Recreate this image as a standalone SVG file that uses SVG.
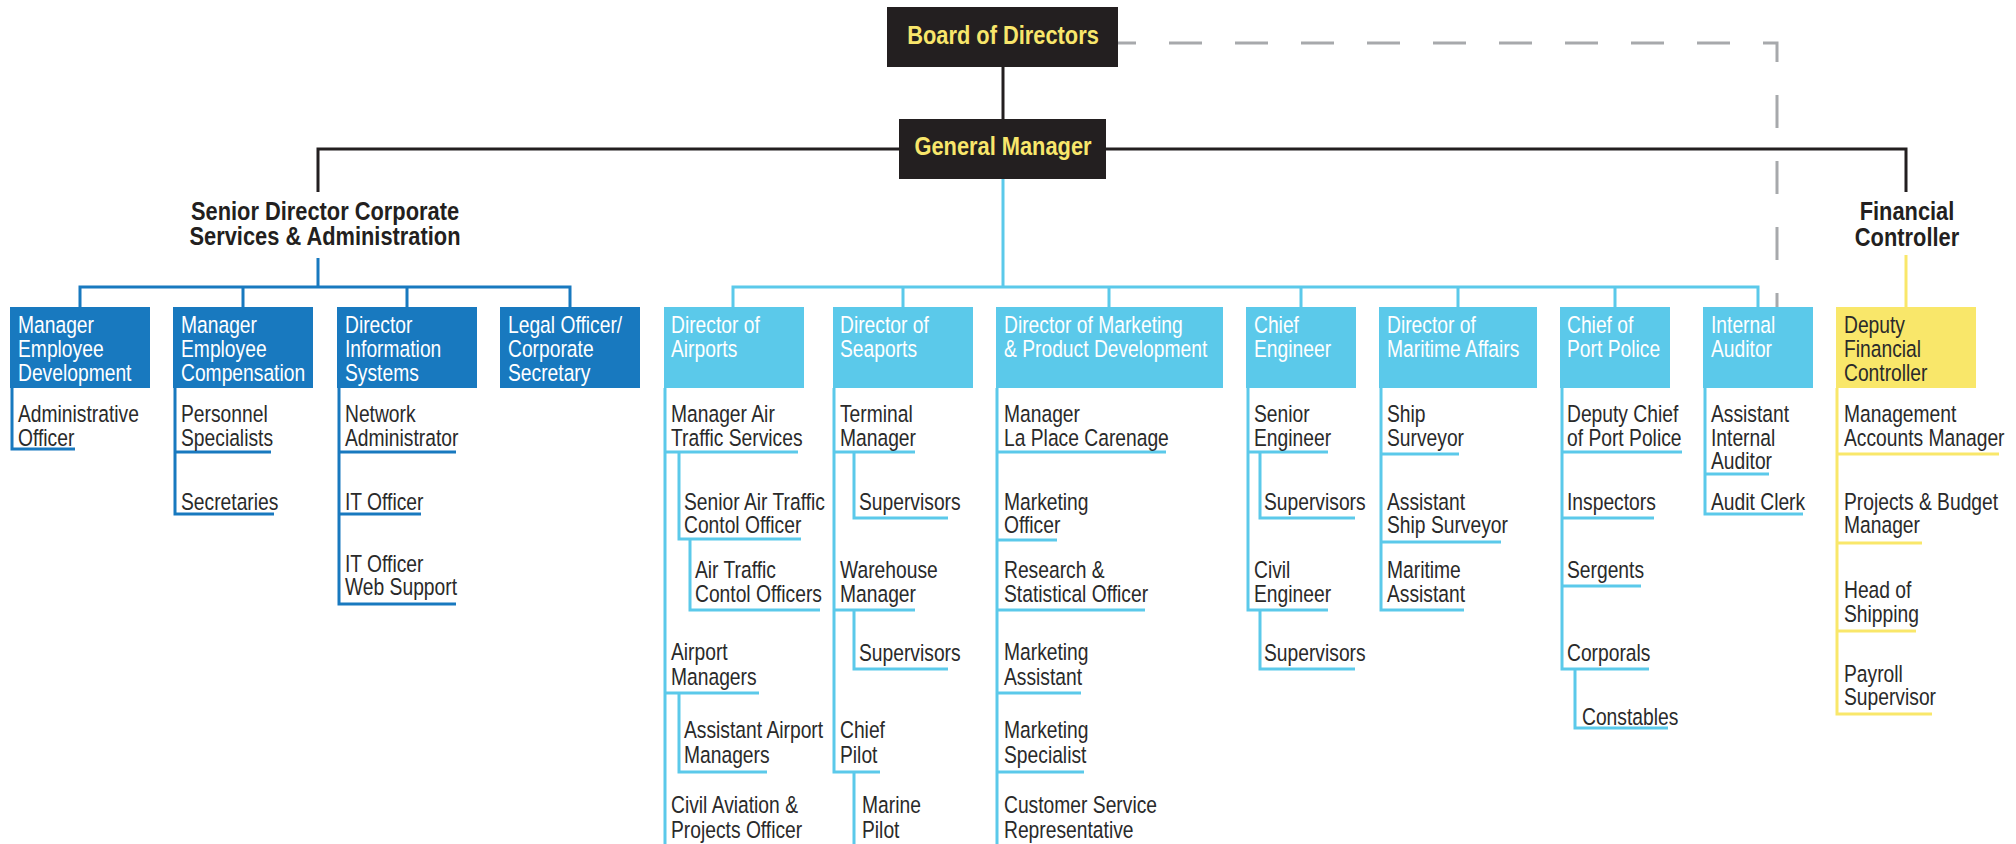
<svg xmlns="http://www.w3.org/2000/svg" width="2016" height="844" viewBox="0 0 2016 844">
<style>
.bg{fill:#ffffff}
.ln{fill:none;stroke-width:3}
.bk{stroke:#231f20}
.db{stroke:#1879bf}
.lb{stroke:#5bc9ea}
.yl{stroke:#f9e76a}
.ds{stroke:#a7a9ac;stroke-dasharray:33 33;stroke-dashoffset:19}
.blk{fill:#231f20}
.dbf{fill:#1879bf}
.lbf{fill:#5bc9ea}
.ylf{fill:#f9e76a}
text{font-family:"Liberation Sans",Arial,sans-serif;font-size:23.5px}
.h{font-weight:bold;font-size:26px;text-anchor:middle}
.hy{fill:#f8e66b}
.hd{fill:#231f20}
.w{fill:#ffffff}
.t{fill:#2a2a2a}
</style>
<rect class="bg" x="0" y="0" width="2016" height="844"/>
<g id="connectors">
<path class="ln ds" d="M1777 307 V43 H1118"/>
<path class="ln bk" d="M1003 67 V119"/>
<path class="ln bk" d="M318 192 V149 H1906 V192"/>
<path class="ln db" d="M318 258 V287 M80 307 V287 H570 V307 M243 287 V307 M407 287 V307"/>
<path class="ln lb" d="M1003 179 V287 M733 307 V287 H1758 V307 M903 287 V307 M1109 287 V307 M1301 287 V307 M1458 287 V307 M1615 287 V307"/>
<path class="ln yl" d="M1906 255 V307"/>
<path class="ln db" d="M12 388 V449 H75"/>
<path class="ln db" d="M175 388 V514 H274 M175 452 H271"/>
<path class="ln db" d="M339 388 V604 H456 M339 452 H456 M339 514 H421"/>
<path class="ln lb" d="M665 388 V844 M665 452 H798 M665 693 H759 M679 452 V539 H801 M690 539 V610 H820 M679 693 V772 H767"/>
<path class="ln lb" d="M834 388 V772 H880 M834 452 H915 M834 610 H915 M854 452 V518 H948 M854 610 V669 H948 M854 772 V844"/>
<path class="ln lb" d="M997 388 V844 M997 452 H1166 M997 540 H1057 M997 610 H1145 M997 693 H1081 M997 772 H1084"/>
<path class="ln lb" d="M1248 388 V610 H1328 M1248 452 H1328 M1260 452 V518 H1355 M1260 610 V669 H1355"/>
<path class="ln lb" d="M1381 388 V610 H1464 M1381 454 H1459 M1381 542 H1501"/>
<path class="ln lb" d="M1562 388 V669 H1649 M1562 452 H1682 M1562 518 H1654 M1562 586 H1641 M1575 669 V728 H1668"/>
<path class="ln lb" d="M1705 388 V514 H1803 M1705 474 H1769"/>
<path class="ln yl" d="M1837 388 V714 H1932 M1837 454 H1999 M1837 543 H1922 M1837 631 H1916"/>
</g>
<g id="board">
<rect class="blk" x="887" y="7" width="231" height="60"/>
<text class="h hy" transform="matrix(.84 0 0 1 1003 0)" x="0" y="44">Board of Directors</text>
</g>
<g id="general-manager">
<rect class="blk" x="899" y="119" width="207" height="60"/>
<text class="h hy" transform="matrix(.84 0 0 1 1003 0)" x="0" y="155">General Manager</text>
</g>
<g id="senior-director">
<text class="h hd" transform="matrix(.84 0 0 1 325 0)"><tspan x="0" y="220">Senior Director Corporate</tspan><tspan x="0" y="245">Services &amp; Administration</tspan></text>
</g>
<g id="financial-controller">
<text class="h hd" transform="matrix(.84 0 0 1 1907 0)"><tspan x="0" y="220">Financial</tspan><tspan x="0" y="246">Controller</tspan></text>
</g>
<g id="mgr-emp-dev">
<rect class="dbf" x="10" y="307" width="140" height="81"/>
<text class="w" transform="matrix(.82 0 0 1 18 0)"><tspan x="0" y="333">Manager</tspan><tspan x="0" y="357">Employee</tspan><tspan x="0" y="381">Development</tspan></text>
<text class="t" transform="matrix(.82 0 0 1 18 0)"><tspan x="0" y="422">Administrative</tspan><tspan x="0" y="446">Officer</tspan></text>
</g>
<g id="mgr-emp-comp">
<rect class="dbf" x="173" y="307" width="140" height="81"/>
<text class="w" transform="matrix(.82 0 0 1 181 0)"><tspan x="0" y="333">Manager</tspan><tspan x="0" y="357">Employee</tspan><tspan x="0" y="381">Compensation</tspan></text>
<text class="t" transform="matrix(.82 0 0 1 181 0)"><tspan x="0" y="422">Personnel</tspan><tspan x="0" y="446">Specialists</tspan></text>
<text class="t" transform="matrix(.82 0 0 1 181 0)" x="0" y="510">Secretaries</text>
</g>
<g id="dir-info-sys">
<rect class="dbf" x="337" y="307" width="140" height="81"/>
<text class="w" transform="matrix(.82 0 0 1 345 0)"><tspan x="0" y="333">Director</tspan><tspan x="0" y="357">Information</tspan><tspan x="0" y="381">Systems</tspan></text>
<text class="t" transform="matrix(.82 0 0 1 345 0)"><tspan x="0" y="422">Network</tspan><tspan x="0" y="446">Administrator</tspan></text>
<text class="t" transform="matrix(.82 0 0 1 345 0)" x="0" y="510">IT Officer</text>
<text class="t" transform="matrix(.82 0 0 1 345 0)"><tspan x="0" y="572">IT Officer</tspan><tspan x="0" y="595">Web Support</tspan></text>
</g>
<g id="legal-officer">
<rect class="dbf" x="500" y="307" width="140" height="81"/>
<text class="w" transform="matrix(.82 0 0 1 508 0)"><tspan x="0" y="333">Legal Officer/</tspan><tspan x="0" y="357">Corporate</tspan><tspan x="0" y="381">Secretary</tspan></text>
</g>
<g id="dir-airports">
<rect class="lbf" x="664" y="307" width="140" height="81"/>
<text class="w" transform="matrix(.82 0 0 1 671 0)"><tspan x="0" y="333">Director of</tspan><tspan x="0" y="357">Airports</tspan></text>
<text class="t" transform="matrix(.82 0 0 1 671 0)"><tspan x="0" y="422">Manager Air</tspan><tspan x="0" y="446">Traffic Services</tspan></text>
<text class="t" transform="matrix(.82 0 0 1 684 0)"><tspan x="0" y="510">Senior Air Traffic</tspan><tspan x="0" y="533">Contol Officer</tspan></text>
<text class="t" transform="matrix(.82 0 0 1 695 0)"><tspan x="0" y="578">Air Traffic</tspan><tspan x="0" y="602">Contol Officers</tspan></text>
<text class="t" transform="matrix(.82 0 0 1 671 0)"><tspan x="0" y="660">Airport</tspan><tspan x="0" y="685">Managers</tspan></text>
<text class="t" transform="matrix(.82 0 0 1 684 0)"><tspan x="0" y="738">Assistant Airport</tspan><tspan x="0" y="763">Managers</tspan></text>
<text class="t" transform="matrix(.82 0 0 1 671 0)"><tspan x="0" y="813">Civil Aviation &amp;</tspan><tspan x="0" y="838">Projects Officer</tspan></text>
</g>
<g id="dir-seaports">
<rect class="lbf" x="833" y="307" width="140" height="81"/>
<text class="w" transform="matrix(.82 0 0 1 840 0)"><tspan x="0" y="333">Director of</tspan><tspan x="0" y="357">Seaports</tspan></text>
<text class="t" transform="matrix(.82 0 0 1 840 0)"><tspan x="0" y="422">Terminal</tspan><tspan x="0" y="446">Manager</tspan></text>
<text class="t" transform="matrix(.82 0 0 1 859 0)" x="0" y="510">Supervisors</text>
<text class="t" transform="matrix(.82 0 0 1 840 0)"><tspan x="0" y="578">Warehouse</tspan><tspan x="0" y="602">Manager</tspan></text>
<text class="t" transform="matrix(.82 0 0 1 859 0)" x="0" y="661">Supervisors</text>
<text class="t" transform="matrix(.82 0 0 1 840 0)"><tspan x="0" y="738">Chief</tspan><tspan x="0" y="763">Pilot</tspan></text>
<text class="t" transform="matrix(.82 0 0 1 862 0)"><tspan x="0" y="813">Marine</tspan><tspan x="0" y="838">Pilot</tspan></text>
</g>
<g id="dir-marketing">
<rect class="lbf" x="996" y="307" width="227" height="81"/>
<text class="w" transform="matrix(.82 0 0 1 1004 0)"><tspan x="0" y="333">Director of Marketing</tspan><tspan x="0" y="357">&amp; Product Development</tspan></text>
<text class="t" transform="matrix(.82 0 0 1 1004 0)"><tspan x="0" y="422">Manager</tspan><tspan x="0" y="446">La Place Carenage</tspan></text>
<text class="t" transform="matrix(.82 0 0 1 1004 0)"><tspan x="0" y="510">Marketing</tspan><tspan x="0" y="533">Officer</tspan></text>
<text class="t" transform="matrix(.82 0 0 1 1004 0)"><tspan x="0" y="578">Research &amp;</tspan><tspan x="0" y="602">Statistical Officer</tspan></text>
<text class="t" transform="matrix(.82 0 0 1 1004 0)"><tspan x="0" y="660">Marketing</tspan><tspan x="0" y="685">Assistant</tspan></text>
<text class="t" transform="matrix(.82 0 0 1 1004 0)"><tspan x="0" y="738">Marketing</tspan><tspan x="0" y="763">Specialist</tspan></text>
<text class="t" transform="matrix(.82 0 0 1 1004 0)"><tspan x="0" y="813">Customer Service</tspan><tspan x="0" y="838">Representative</tspan></text>
</g>
<g id="chief-engineer">
<rect class="lbf" x="1246" y="307" width="110" height="81"/>
<text class="w" transform="matrix(.82 0 0 1 1254 0)"><tspan x="0" y="333">Chief</tspan><tspan x="0" y="357">Engineer</tspan></text>
<text class="t" transform="matrix(.82 0 0 1 1254 0)"><tspan x="0" y="422">Senior</tspan><tspan x="0" y="446">Engineer</tspan></text>
<text class="t" transform="matrix(.82 0 0 1 1264 0)" x="0" y="510">Supervisors</text>
<text class="t" transform="matrix(.82 0 0 1 1254 0)"><tspan x="0" y="578">Civil</tspan><tspan x="0" y="602">Engineer</tspan></text>
<text class="t" transform="matrix(.82 0 0 1 1264 0)" x="0" y="661">Supervisors</text>
</g>
<g id="dir-maritime">
<rect class="lbf" x="1379" y="307" width="158" height="81"/>
<text class="w" transform="matrix(.82 0 0 1 1387 0)"><tspan x="0" y="333">Director of</tspan><tspan x="0" y="357">Maritime Affairs</tspan></text>
<text class="t" transform="matrix(.82 0 0 1 1387 0)"><tspan x="0" y="422">Ship</tspan><tspan x="0" y="446">Surveyor</tspan></text>
<text class="t" transform="matrix(.82 0 0 1 1387 0)"><tspan x="0" y="510">Assistant</tspan><tspan x="0" y="533">Ship Surveyor</tspan></text>
<text class="t" transform="matrix(.82 0 0 1 1387 0)"><tspan x="0" y="578">Maritime</tspan><tspan x="0" y="602">Assistant</tspan></text>
</g>
<g id="chief-port-police">
<rect class="lbf" x="1560" y="307" width="110" height="81"/>
<text class="w" transform="matrix(.82 0 0 1 1567 0)"><tspan x="0" y="333">Chief of</tspan><tspan x="0" y="357">Port Police</tspan></text>
<text class="t" transform="matrix(.82 0 0 1 1567 0)"><tspan x="0" y="422">Deputy Chief</tspan><tspan x="0" y="446">of Port Police</tspan></text>
<text class="t" transform="matrix(.82 0 0 1 1567 0)" x="0" y="510">Inspectors</text>
<text class="t" transform="matrix(.82 0 0 1 1567 0)" x="0" y="578">Sergents</text>
<text class="t" transform="matrix(.82 0 0 1 1567 0)" x="0" y="661">Corporals</text>
<text class="t" transform="matrix(.82 0 0 1 1582 0)" x="0" y="725">Constables</text>
</g>
<g id="internal-auditor">
<rect class="lbf" x="1703" y="307" width="110" height="81"/>
<text class="w" transform="matrix(.82 0 0 1 1711 0)"><tspan x="0" y="333">Internal</tspan><tspan x="0" y="357">Auditor</tspan></text>
<text class="t" transform="matrix(.82 0 0 1 1711 0)"><tspan x="0" y="422">Assistant</tspan><tspan x="0" y="446">Internal</tspan><tspan x="0" y="469">Auditor</tspan></text>
<text class="t" transform="matrix(.82 0 0 1 1711 0)" x="0" y="510">Audit Clerk</text>
</g>
<g id="deputy-financial-controller">
<rect class="ylf" x="1836" y="307" width="140" height="81"/>
<text class="t" transform="matrix(.82 0 0 1 1844 0)"><tspan x="0" y="333">Deputy</tspan><tspan x="0" y="357">Financial</tspan><tspan x="0" y="381">Controller</tspan></text>
<text class="t" transform="matrix(.82 0 0 1 1844 0)"><tspan x="0" y="422">Management</tspan><tspan x="0" y="446">Accounts Manager</tspan></text>
<text class="t" transform="matrix(.82 0 0 1 1844 0)"><tspan x="0" y="510">Projects &amp; Budget</tspan><tspan x="0" y="533">Manager</tspan></text>
<text class="t" transform="matrix(.82 0 0 1 1844 0)"><tspan x="0" y="598">Head of</tspan><tspan x="0" y="622">Shipping</tspan></text>
<text class="t" transform="matrix(.82 0 0 1 1844 0)"><tspan x="0" y="682">Payroll</tspan><tspan x="0" y="705">Supervisor</tspan></text>
</g>
</svg>
